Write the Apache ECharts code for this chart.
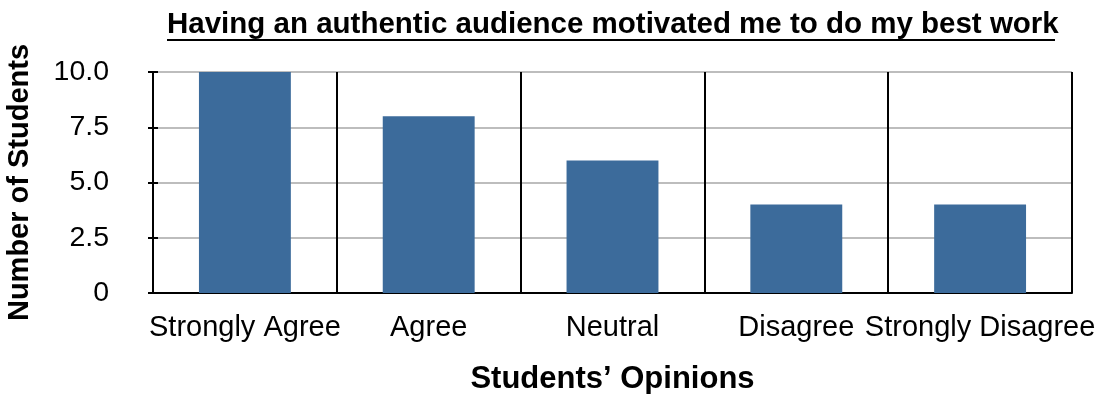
<!DOCTYPE html>
<html>
<head>
<meta charset="utf-8">
<script src="https://cdn.jsdelivr.net/npm/echarts@6/dist/echarts.min.js"></script>
<style>
html,body{margin:0;padding:0;background:#fff;}
#chart{width:1097px;height:394px;}
</style>
</head>
<body>
<div id="chart"></div>
<script>
const titleText = "Having an authentic audience motivated me to do my best work";
const categories = ["Strongly Agree", "Agree", "Neutral", "Disagree", "Strongly Disagree"];
const studentCounts = [10, 8, 6, 4, 4];
const yTickValues = [0, 2.5, 5, 7.5, 10];
const yTickLabels = ["0", "2.5", "5.0", "7.5", "10.0"];
const xAxisTitle = "Students\u2019 Opinions";
const yAxisTitle = "Number of Students";

const FONT = "'Liberation Sans', Arial, Helvetica, sans-serif";
const chart = echarts.init(document.getElementById('chart'), null, {renderer: 'canvas'});

function tickLabel(v) {
  const i = yTickValues.indexOf(v);
  return i >= 0 ? yTickLabels[i] : '';
}

chart.setOption({
  animation: false,
  backgroundColor: '#ffffff',
  title: {
    text: titleText,
    left: 167,
    top: 10,
    padding: 0,
    textStyle: {fontFamily: FONT, fontSize: 29.5, fontWeight: 'bold', color: '#000'}
  },
  graphic: [{
    type: 'rect',
    shape: {x: 167, y: 39, width: 888, height: 2},
    style: {fill: '#000'},
    silent: true
  }],
  grid: {left: 153, right: 25, top: 72, bottom: 101, containLabel: false, outerBoundsMode: 'none'},
  xAxis: {
    type: 'category',
    data: categories,
    boundaryGap: true,
    name: xAxisTitle,
    nameLocation: 'middle',
    nameGap: 71,
    nameTextStyle: {fontFamily: FONT, fontSize: 31, fontWeight: 'bold', color: '#000'},
    axisLine: {show: true, lineStyle: {color: '#000', width: 2}},
    axisTick: {show: false},
    axisLabel: {interval: 0, margin: 20, fontFamily: FONT, fontSize: 29, color: '#000'},
    splitLine: {show: true, interval: 0, lineStyle: {color: '#000', width: 2}}
  },
  yAxis: [{
    type: 'value',
    min: 0, max: 10, interval: 2.5,
    name: yAxisTitle,
    nameLocation: 'middle',
    nameGap: 119,
    nameTextStyle: {fontFamily: FONT, fontSize: 29, fontWeight: 'bold', color: '#000'},
    axisLine: {show: true, lineStyle: {color: '#000', width: 2}},
    axisTick: {show: true, inside: false, length: 5, lineStyle: {color: '#000', width: 2}},
    axisLabel: {margin: 44, padding: [6, 0, 0, 0], fontFamily: FONT, fontSize: 28.5, color: '#000', formatter: tickLabel},
    splitLine: {show: true, lineStyle: {color: '#bdbdbd', width: 2}}
  }, {
    type: 'value',
    position: 'left',
    min: 0, max: 10, interval: 2.5,
    axisLine: {show: false},
    axisTick: {show: true, inside: true, length: 5, lineStyle: {color: '#000', width: 2}},
    axisLabel: {show: false},
    splitLine: {show: false}
  }],
  series: [{
    type: 'bar',
    data: studentCounts,
    yAxisIndex: 0,
    barWidth: '50%',
    itemStyle: {color: '#3c6b9b'},
    z: 1
  }]
});
</script>
</body>
</html>
